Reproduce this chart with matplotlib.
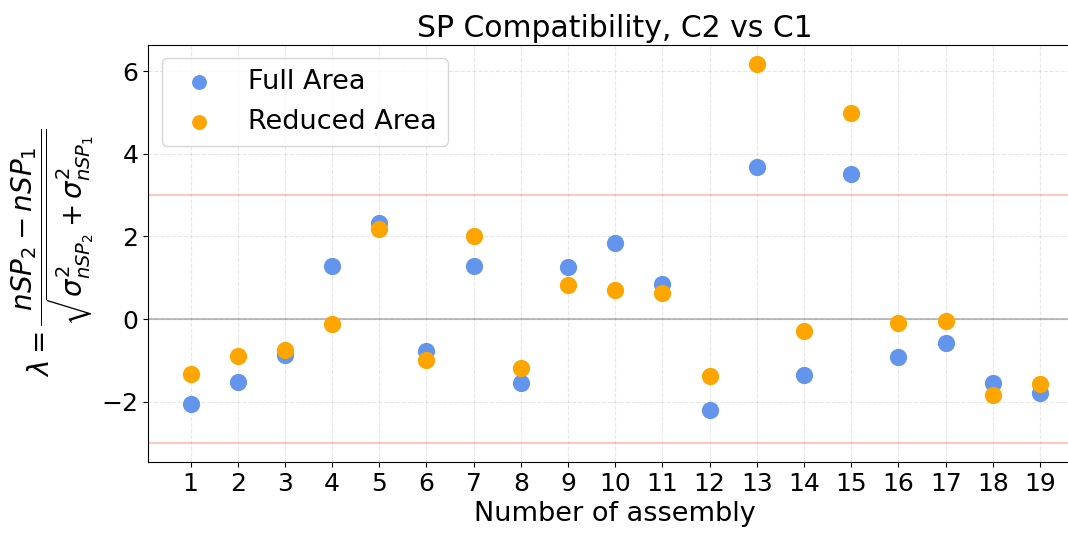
import matplotlib
matplotlib.use("Agg")
import matplotlib.pyplot as plt

# Assemblies 1..19
assembly = list(range(1, 20))

# lambda values
full_area = [-2.05, -1.52, -0.88, 1.28, 2.33, -0.78, 1.28, -1.56, 1.25, 1.83,
             0.84, -2.21, 3.67, -1.35, 3.51, -0.91, -0.58, -1.54, -1.78]
reduced_area = [-1.32, -0.90, -0.76, -0.13, 2.19, -0.98, 2.02, -1.19, 0.83, 0.71,
                0.64, -1.39, 6.18, -0.28, 4.99, -0.10, -0.04, -1.84, -1.57]

# compatibility threshold
LIMIT = 3

fig = plt.figure(figsize=(10.68, 5.34), dpi=100)
ax = fig.add_axes([0.1386, 0.135, 0.875, 0.781])

ax.scatter(assembly, full_area, s=130, color="cornflowerblue", label="Full Area", zorder=3)
ax.scatter(assembly, reduced_area, s=130, color="orange", label="Reduced Area", zorder=3)

# Reference lines
ax.axhline(0, color="gray", alpha=0.5, linewidth=1.5)
ax.axhline(LIMIT, color="tomato", alpha=0.35, linewidth=1.5)
ax.axhline(-LIMIT, color="tomato", alpha=0.35, linewidth=1.5)

ax.set_xticks(assembly)
ax.tick_params(labelsize=18)
ax.grid(True, linestyle="--", alpha=0.3)

ax.set_title("SP Compatibility, C2 vs C1", fontsize=21.5)
ax.set_xlabel("Number of assembly", fontsize=19.5)
ax.set_ylabel(r"$\lambda = \dfrac{nSP_2 - nSP_1}{\sqrt{\sigma^2_{nSP_2} + \sigma^2_{nSP_1}}}$",
              fontsize=20)

ax.legend(loc="upper left", fontsize=19.5, markerscale=0.85)

fig.savefig("out.png", dpi=100)
